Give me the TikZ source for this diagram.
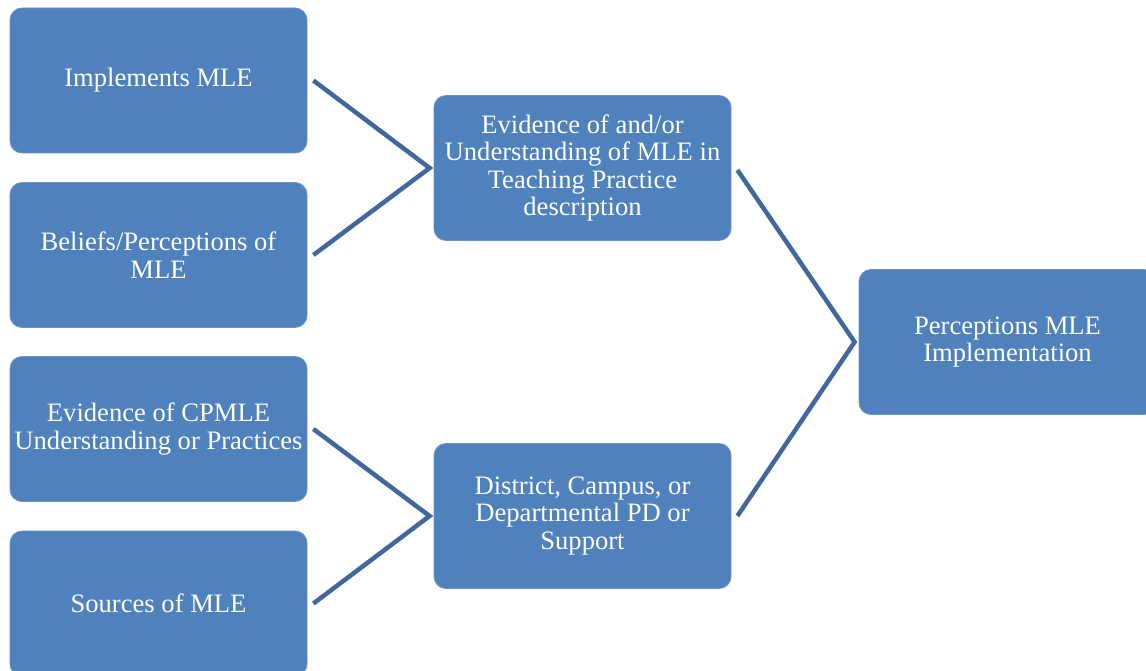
\documentclass[tikz,border=0pt]{standalone}
\usepackage{fontspec}
\setmainfont{Liberation Serif}
\usepackage{tikz}

\definecolor{boxblue}{RGB}{79,129,189}
\definecolor{lineblue}{RGB}{64,104,156}

\begin{document}
\begin{tikzpicture}[x=1pt,y=1pt,yscale=-1,xscale=1,
  mlebox/.style={fill=boxblue,draw=boxblue!85!white,line width=0.8,rounded corners=12,
    minimum width=297,minimum height=145,inner sep=2,text=white,align=center,
    font=\fontsize{26.6}{27.5}\selectfont},
  link/.style={draw=lineblue,line width=4.5}]
\useasboundingbox (0,0) rectangle (1146,671);

%Shape: Rounded Rect, left column
\node [mlebox] (impl) at (158.5,80.5) {Implements MLE};
\node [mlebox] (beliefs) at (158.5,255) {Beliefs/Perceptions of\\MLE};
\node [mlebox] (cpmle) at (158.5,429) {Evidence of CPMLE\\Understanding or Practices};
\node [mlebox] (sources) at (158.5,603.5) {Sources of MLE};

%Shape: Rounded Rect, middle column
\node [mlebox] (evid) at (582.5,168) {Evidence of and/or\\Understanding of MLE in\\Teaching Practice\\description};
\node [mlebox] (district) at (582.5,516) {District, Campus, or\\Departmental PD or\\Support};

%Shape: Rounded Rect, right
\node [mlebox] (percep) at (1007.5,342) {Perceptions MLE\\Implementation};

%Straight Lines
\draw [link] ([xshift=6]impl.east) -- ([xshift=-4]evid.west) -- ([xshift=6]beliefs.east);
\draw [link] ([xshift=6]cpmle.east) -- ([xshift=-4]district.west) -- ([xshift=6]sources.east);
\draw [link] ([xshift=6,yshift=2]evid.east) -- ([xshift=-4]percep.west) -- ([xshift=6]district.east);

\end{tikzpicture}
\end{document}
